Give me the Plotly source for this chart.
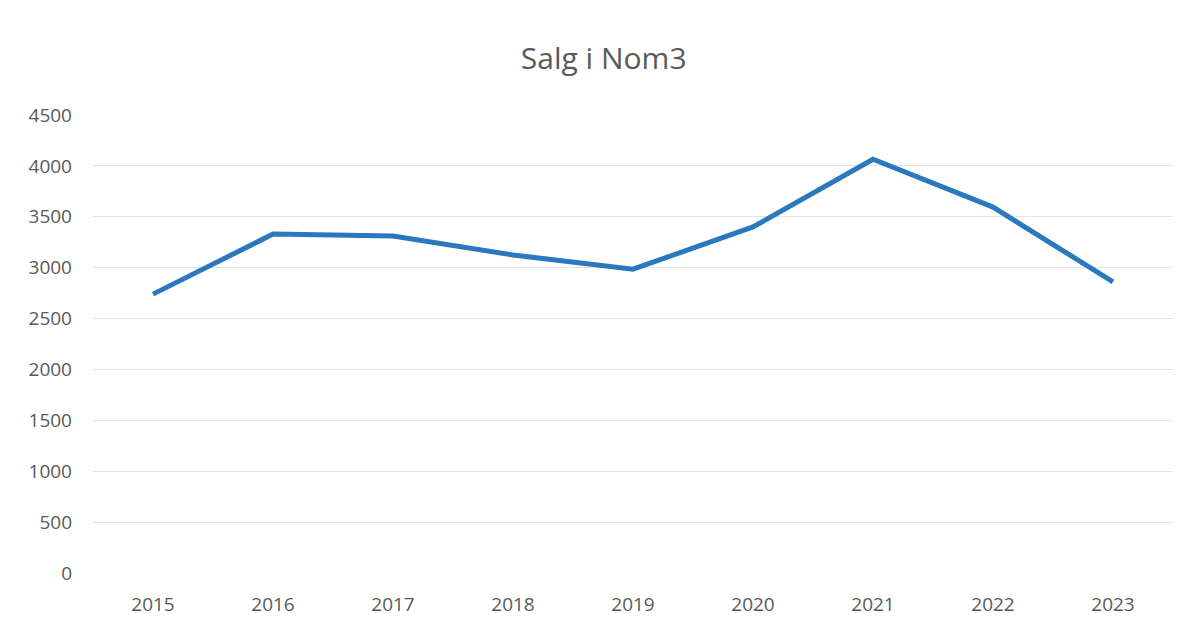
import plotly.graph_objects as go

years = ["2015", "2016", "2017", "2018", "2019", "2020", "2021", "2022", "2023"]
sales = [2740, 3330, 3310, 3125, 2985, 3400, 4065, 3595, 2860]
y_ticks = [0, 500, 1000, 1500, 2000, 2500, 3000, 3500, 4000, 4500]

fig = go.Figure()
fig.add_trace(go.Scatter(
    x=years, y=sales, mode="lines",
    line=dict(color="#2a78bd", width=5),
    showlegend=False,
))

fig.update_layout(
    width=1189, height=627,
    paper_bgcolor="white", plot_bgcolor="white",
    margin=dict(l=85, r=24, t=107, b=62, autoexpand=False),
    title=dict(text="Salg i Nom3", x=0.501, xanchor="center", y=0.92, yanchor="middle",
               font=dict(family="Open Sans, Lato, sans-serif", size=30, color="#595959")),
    font=dict(family="Open Sans, Lato, sans-serif", color="#595959"),
)
fig.update_xaxes(
    type="category", range=[-0.5, 8.5], showgrid=False, showline=False, zeroline=False,
    tickfont=dict(size=19, color="#595959"), ticks="", ticklabelstandoff=18,
    automargin=False,
)
fig.update_yaxes(
    range=[0, 4500], tickvals=y_ticks, showgrid=True, gridcolor="#e4e4e4", gridwidth=1,
    zeroline=False, showline=False, tickfont=dict(size=19, color="#595959"),
    ticks="", ticklabelstandoff=20, automargin=False,
)

fig.write_html("out.html")
